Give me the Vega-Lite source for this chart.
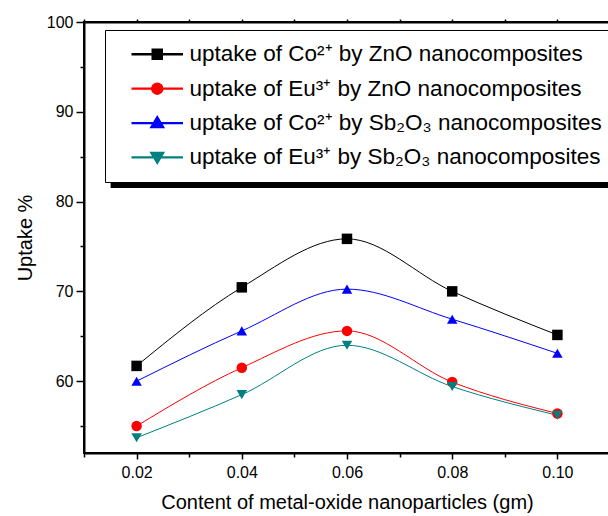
{
  "$schema": "https://vega.github.io/schema/vega-lite/v6.json",
  "autosize": {"type": "none"},
  "padding": {"left": 84, "top": 22, "right": 0, "bottom": 63},
  "width": 526,
  "height": 431,
  "background": "white",
  "config": {
    "font": "Liberation Sans",
    "view": {"stroke": "black", "strokeWidth": 2},
    "axis": {"labelFont": "Liberation Sans", "titleFont": "Liberation Sans", "labelColor": "black", "titleColor": "black", "domainColor": "black", "tickColor": "black", "grid": false, "titleFontWeight": "normal"}
  },
  "data": {
    "values": [
      {"content": 0.02, "uptake": 61.7, "series": "uptake of Co²⁺ by ZnO nanocomposites"},
      {"content": 0.04, "uptake": 70.45, "series": "uptake of Co²⁺ by ZnO nanocomposites"},
      {"content": 0.06, "uptake": 75.85, "series": "uptake of Co²⁺ by ZnO nanocomposites"},
      {"content": 0.08, "uptake": 70.0, "series": "uptake of Co²⁺ by ZnO nanocomposites"},
      {"content": 0.10, "uptake": 65.15, "series": "uptake of Co²⁺ by ZnO nanocomposites"},
      {"content": 0.02, "uptake": 55.0, "series": "uptake of Eu³⁺ by ZnO nanocomposites"},
      {"content": 0.04, "uptake": 61.5, "series": "uptake of Eu³⁺ by ZnO nanocomposites"},
      {"content": 0.06, "uptake": 65.6, "series": "uptake of Eu³⁺ by ZnO nanocomposites"},
      {"content": 0.08, "uptake": 59.9, "series": "uptake of Eu³⁺ by ZnO nanocomposites"},
      {"content": 0.10, "uptake": 56.4, "series": "uptake of Eu³⁺ by ZnO nanocomposites"},
      {"content": 0.02, "uptake": 60.0, "series": "uptake of Co²⁺ by Sb₂O₃ nanocomposites"},
      {"content": 0.04, "uptake": 65.6, "series": "uptake of Co²⁺ by Sb₂O₃ nanocomposites"},
      {"content": 0.06, "uptake": 70.25, "series": "uptake of Co²⁺ by Sb₂O₃ nanocomposites"},
      {"content": 0.08, "uptake": 66.9, "series": "uptake of Co²⁺ by Sb₂O₃ nanocomposites"},
      {"content": 0.10, "uptake": 63.1, "series": "uptake of Co²⁺ by Sb₂O₃ nanocomposites"},
      {"content": 0.02, "uptake": 53.7, "series": "uptake of Eu³⁺ by Sb₂O₃ nanocomposites"},
      {"content": 0.04, "uptake": 58.5, "series": "uptake of Eu³⁺ by Sb₂O₃ nanocomposites"},
      {"content": 0.06, "uptake": 64.0, "series": "uptake of Eu³⁺ by Sb₂O₃ nanocomposites"},
      {"content": 0.08, "uptake": 59.4, "series": "uptake of Eu³⁺ by Sb₂O₃ nanocomposites"},
      {"content": 0.10, "uptake": 56.2, "series": "uptake of Eu³⁺ by Sb₂O₃ nanocomposites"}
    ]
  },
  "encoding": {
    "y": {
      "field": "uptake", "type": "quantitative",
      "scale": {"domain": [52, 100], "nice": false, "zero": false},
      "axis": {
        "title": "Uptake %", "titleFontSize": 20, "titlePadding": 11,
        "values": [55, 60, 65, 70, 75, 80, 85, 90, 95, 100],
        "labelExpr": "datum.value % 10 == 0 ? datum.label : ''",
        "labelFontSize": 16, "labelPadding": 3,
        "tickSize": {"condition": {"test": "datum.value % 10 == 0", "value": 8}, "value": 4},
        "tickWidth": 1.5, "domainWidth": 2
      }
    }
  },
  "layer": [
    {
      "mark": {"type": "line", "interpolate": "monotone", "strokeWidth": 1},
      "encoding": {
        "x": {
          "field": "content", "type": "quantitative",
          "scale": {"domain": [0.01, 0.11], "nice": false, "zero": false},
          "axis": {
            "orient": "bottom",
            "title": "Content of metal-oxide nanoparticles (gm)", "titleFontSize": 20, "titlePadding": 12,
            "values": [0.01, 0.02, 0.03, 0.04, 0.05, 0.06, 0.07, 0.08, 0.09, 0.1, 0.11],
            "format": ".2f",
            "labelExpr": "round(datum.value * 100) % 2 == 0 ? datum.label : ''",
            "labelFontSize": 16, "labelPadding": 5,
            "tickSize": {"condition": {"test": "round(datum.value * 100) % 2 == 0", "value": 6}, "value": 4},
            "tickWidth": 1.5, "domainWidth": 2
          }
        },
        "color": {
          "field": "series", "type": "nominal",
          "scale": {
            "domain": ["uptake of Co²⁺ by ZnO nanocomposites", "uptake of Eu³⁺ by ZnO nanocomposites", "uptake of Co²⁺ by Sb₂O₃ nanocomposites", "uptake of Eu³⁺ by Sb₂O₃ nanocomposites"],
            "range": ["#000000", "#ff0000", "#0000ff", "#008080"]
          },
          "legend": {
            "orient": "none", "legendX": 21, "legendY": 8,
            "title": null,
            "strokeColor": "black", "fillColor": "white",
            "padding": 13,
            "labelFont": "Liberation Sans", "labelFontSize": 22.5, "labelColor": "black", "labelLimit": 1000,
            "labelOffset": 49,
            "symbolSize": 400,
            "rowPadding": 11.4,
            "encode": {
              "symbols": {
                "update": {
                  "shape": {"signal": "['M0.3,-0.04H5.3V0.04H0.3Z M2.3,-0.5H3.3V0.5H2.3Z M52,0L52.01,0', 'M0.3,-0.04H5.3V0.04H0.3Z M2.25,0A0.55,0.55 0 1,0 3.35,0A0.55,0.55 0 1,0 2.25,0Z M52,0L52.01,0', 'M0.3,-0.04H5.3V0.04H0.3Z M2.15,0.45L3.45,0.45L2.8,-0.65Z M52,0L52.01,0', 'M0.3,-0.04H5.3V0.04H0.3Z M2.15,-0.5L3.45,-0.5L2.8,0.6Z M52,0L52.01,0'][datum.index]"},
                  "fill": {"signal": "scale('color', datum.value)"},
                  "stroke": {"value": "transparent"},
                  "size": {"value": 400}
                }
              }
            }
          }
        }
      }
    },
    {
      "mark": {"type": "point", "filled": true, "size": 110, "opacity": 1},
      "encoding": {
        "x": {
          "field": "content", "type": "quantitative",
          "axis": {"orient": "top", "title": null, "labels": false, "values": [0.01, 0.02, 0.03, 0.04, 0.05, 0.06, 0.07, 0.08, 0.09, 0.1, 0.11], "tickSize": 3, "tickWidth": 1.5, "domainWidth": 2}
        },
        "color": {"field": "series", "type": "nominal"},
        "shape": {
          "field": "series", "type": "nominal",
          "scale": {"range": ["triangle-up", "square", "triangle-down", "circle"]},
          "legend": null
        }
      }
    },
    {
      "mark": {"type": "rect", "color": "black"},
      "encoding": {
        "x": {"datum": 0.01513, "type": "quantitative", "axis": null},
        "x2": {"datum": 0.118},
        "y": {"datum": 82.18, "type": "quantitative"},
        "y2": {"datum": 81.51}
      }
    }
  ],
  "resolve": {"axis": {"x": "independent"}}
}
